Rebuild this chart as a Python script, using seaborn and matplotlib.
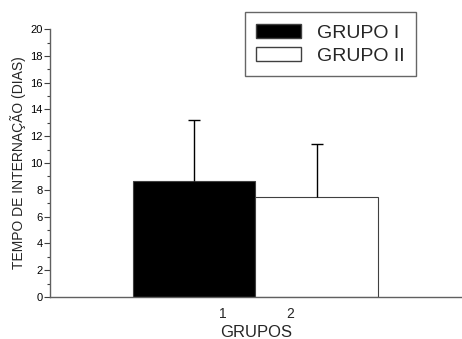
import numpy as np
import matplotlib
matplotlib.use('Agg')
import matplotlib.pyplot as plt
import matplotlib.patches as mpatches
import pandas as pd
import seaborn as sns

# dati
grupos = ['GRUPO I', 'GRUPO II']
medias = [8.66, 7.5]
desvio = [4.55, 3.9]
tick_labels = ['1', '2']
cores = ['black', 'white']

df = pd.DataFrame({'grupo': grupos, 'tempo': medias})

sns.set_style('ticks')
plt.rcParams['font.family'] = ['Liberation Sans', 'DejaVu Sans']

fig = plt.figure(figsize=(4.62, 3.39), dpi=100)
ax = fig.add_axes([0.108, 0.124, 0.892, 0.790])

sns.barplot(data=df, x='grupo', y='tempo', hue='grupo', palette=cores,
            width=1.0, errorbar=None, legend=False, ax=ax,
            edgecolor='#404040', linewidth=0.8)

# barre d'errore solo verso l'alto
pos = np.arange(len(medias))
topo = np.array(medias) + np.array(desvio)
ax.vlines(pos, medias, topo, color='black', linewidth=1)
ax.hlines(topo, pos - 0.05, pos + 0.05, color='black', linewidth=1)

ax.set_xlim(-1.178, 2.186)
ax.set_ylim(0, 20)
ax.set_yticks(np.arange(0, 21, 2))
ax.set_yticks(np.arange(1, 20, 2), minor=True)
ax.tick_params(axis='y', which='major', length=4, width=0.8, labelsize=8, pad=1, colors='#404040', labelcolor='black')
ax.tick_params(axis='y', which='minor', length=2, width=0.8, colors='#404040')
ax.set_xticks([0.232, 0.782])
ax.set_xticklabels(tick_labels, fontsize=10)
ax.tick_params(axis='x', length=0, pad=7)

for s in ['top', 'right']:
    ax.spines[s].set_visible(False)
for s in ['left', 'bottom']:
    ax.spines[s].set_color('#606060')
    ax.spines[s].set_linewidth(1)

ax.set_xlabel('GRUPOS', fontsize=12, labelpad=3)
ax.set_ylabel('TEMPO DE INTERNAÇÃO (DIAS)', fontsize=10, labelpad=3)

handles = [mpatches.Patch(facecolor=c, edgecolor='#404040', label=g)
           for c, g in zip(cores, grupos)]
leg = ax.legend(handles=handles, loc='upper left', bbox_to_anchor=(0.473, 1.063),
                fontsize=14, frameon=True, fancybox=False, handlelength=2.3,
                handleheight=0.75, handletextpad=0.8, borderpad=0.6, labelspacing=0.25,
                borderaxespad=0)
leg.get_frame().set_edgecolor('#404040')
leg.get_frame().set_linewidth(1)

fig.savefig('out.png', dpi=100)
